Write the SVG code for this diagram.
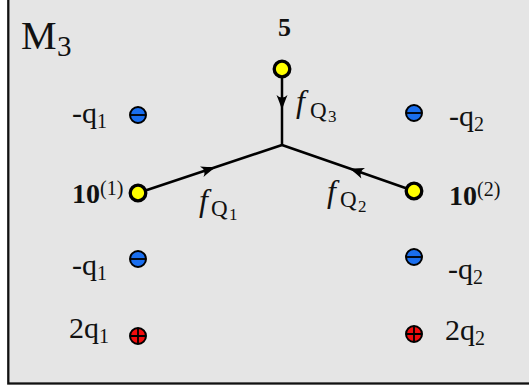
<svg xmlns="http://www.w3.org/2000/svg" width="529" height="389" viewBox="0 0 529 389">
<style>
text{font-family:"Liberation Serif","Times New Roman",serif;fill:#111}
.lbl{font-size:30px}
.sub{font-size:20px}
.bold{font-weight:bold}
.f{font-style:italic;font-size:32px}
.Q{font-size:23px}
.ss{font-size:17px}
.edge{fill:none;stroke:#000;stroke-width:2.5;marker-mid:url(#ah)}
.yel{fill:#ffff00;stroke:#000;stroke-width:3.3}
.blue{fill:#1a6ff0;stroke:#000;stroke-width:2}
.red{fill:#f20c0c;stroke:#000;stroke-width:2}
.bar{stroke:#000;stroke-width:1.8}
</style>
<defs>
<marker id="ah" markerUnits="userSpaceOnUse" markerWidth="20" markerHeight="14" viewBox="-16 -7 20 14" refX="0" refY="0" orient="auto" overflow="visible">
<path d="M0,0 Q-6,-1.8 -15,-5.5 Q-10,0 -15,5.5 Q-6,1.8 0,0 Z" fill="#000"/>
</marker>
</defs>
<rect id="frame" x="8.3" y="-3" width="525" height="386.5" fill="#e5e5e5" stroke="#111" stroke-width="2.3"/>
<text id="title" x="21" y="48.5" font-size="40">M<tspan x="57" y="56" font-size="29">3</tspan></text>
<g id="connectors">
<path class="edge" d="M138,193 L216,167 L282,145"/>
<path class="edge" d="M414,191 L349,168.3 L282,145"/>
<path class="edge" d="M282,69 L282,110 L282,145"/>
</g>
<g id="edge-labels">
<text><tspan class="f" x="199" y="211">f</tspan><tspan class="Q" x="211" y="215.5">Q</tspan><tspan class="ss" x="229" y="220">1</tspan></text>
<text><tspan class="f" x="327" y="202">f</tspan><tspan class="Q" x="340" y="207">Q</tspan><tspan class="ss" x="358" y="211.5">2</tspan></text>
<text><tspan class="f" x="296" y="112">f</tspan><tspan class="Q" x="310" y="117.5">Q</tspan><tspan class="ss" x="328" y="122">3</tspan></text>
</g>
<g id="n5">
<circle class="yel" cx="282" cy="69" r="7.8"/>
<text class="bold" x="284.5" y="36" font-size="26" text-anchor="middle">5</text>
</g>
<g id="n10a">
<circle class="yel" cx="138" cy="193" r="7.8"/>
<text x="72" y="203"><tspan class="bold" font-size="28">10</tspan><tspan font-size="20" y="195">(1)</tspan></text>
</g>
<g id="n10b">
<circle class="yel" cx="414" cy="191" r="7.8"/>
<text x="449" y="205"><tspan class="bold" font-size="28">10</tspan><tspan font-size="20" y="196">(2)</tspan></text>
</g>
<g id="q1top">
<circle class="blue" cx="138" cy="115" r="8"/><line class="bar" x1="130" y1="115" x2="146" y2="115"/>
<text class="lbl" x="72" y="123">-q<tspan class="sub" dy="4.5">1</tspan></text>
</g>
<g id="q2top">
<circle class="blue" cx="414" cy="113" r="8"/><line class="bar" x1="406" y1="113" x2="422" y2="113"/>
<text class="lbl" x="449" y="126">-q<tspan class="sub" dy="4.5">2</tspan></text>
</g>
<g id="q1bot">
<circle class="blue" cx="138" cy="259" r="8"/><line class="bar" x1="130" y1="259" x2="146" y2="259"/>
<text class="lbl" x="72" y="275">-q<tspan class="sub" dy="4.5">1</tspan></text>
</g>
<g id="q2bot">
<circle class="blue" cx="414" cy="257" r="8"/><line class="bar" x1="406" y1="257" x2="422" y2="257"/>
<text class="lbl" x="448" y="279">-q<tspan class="sub" dy="4.5">2</tspan></text>
</g>
<g id="q1red">
<circle class="red" cx="138" cy="336" r="8"/><path class="bar" d="M130,336 H146 M138,328 V344"/>
<text class="lbl" x="69" y="338">2q<tspan class="sub" dy="5">1</tspan></text>
</g>
<g id="q2red">
<circle class="red" cx="414" cy="334" r="8"/><path class="bar" d="M406,334 H422 M414,326 V342"/>
<text class="lbl" x="445" y="340">2q<tspan class="sub" dy="5">2</tspan></text>
</g>
</svg>
